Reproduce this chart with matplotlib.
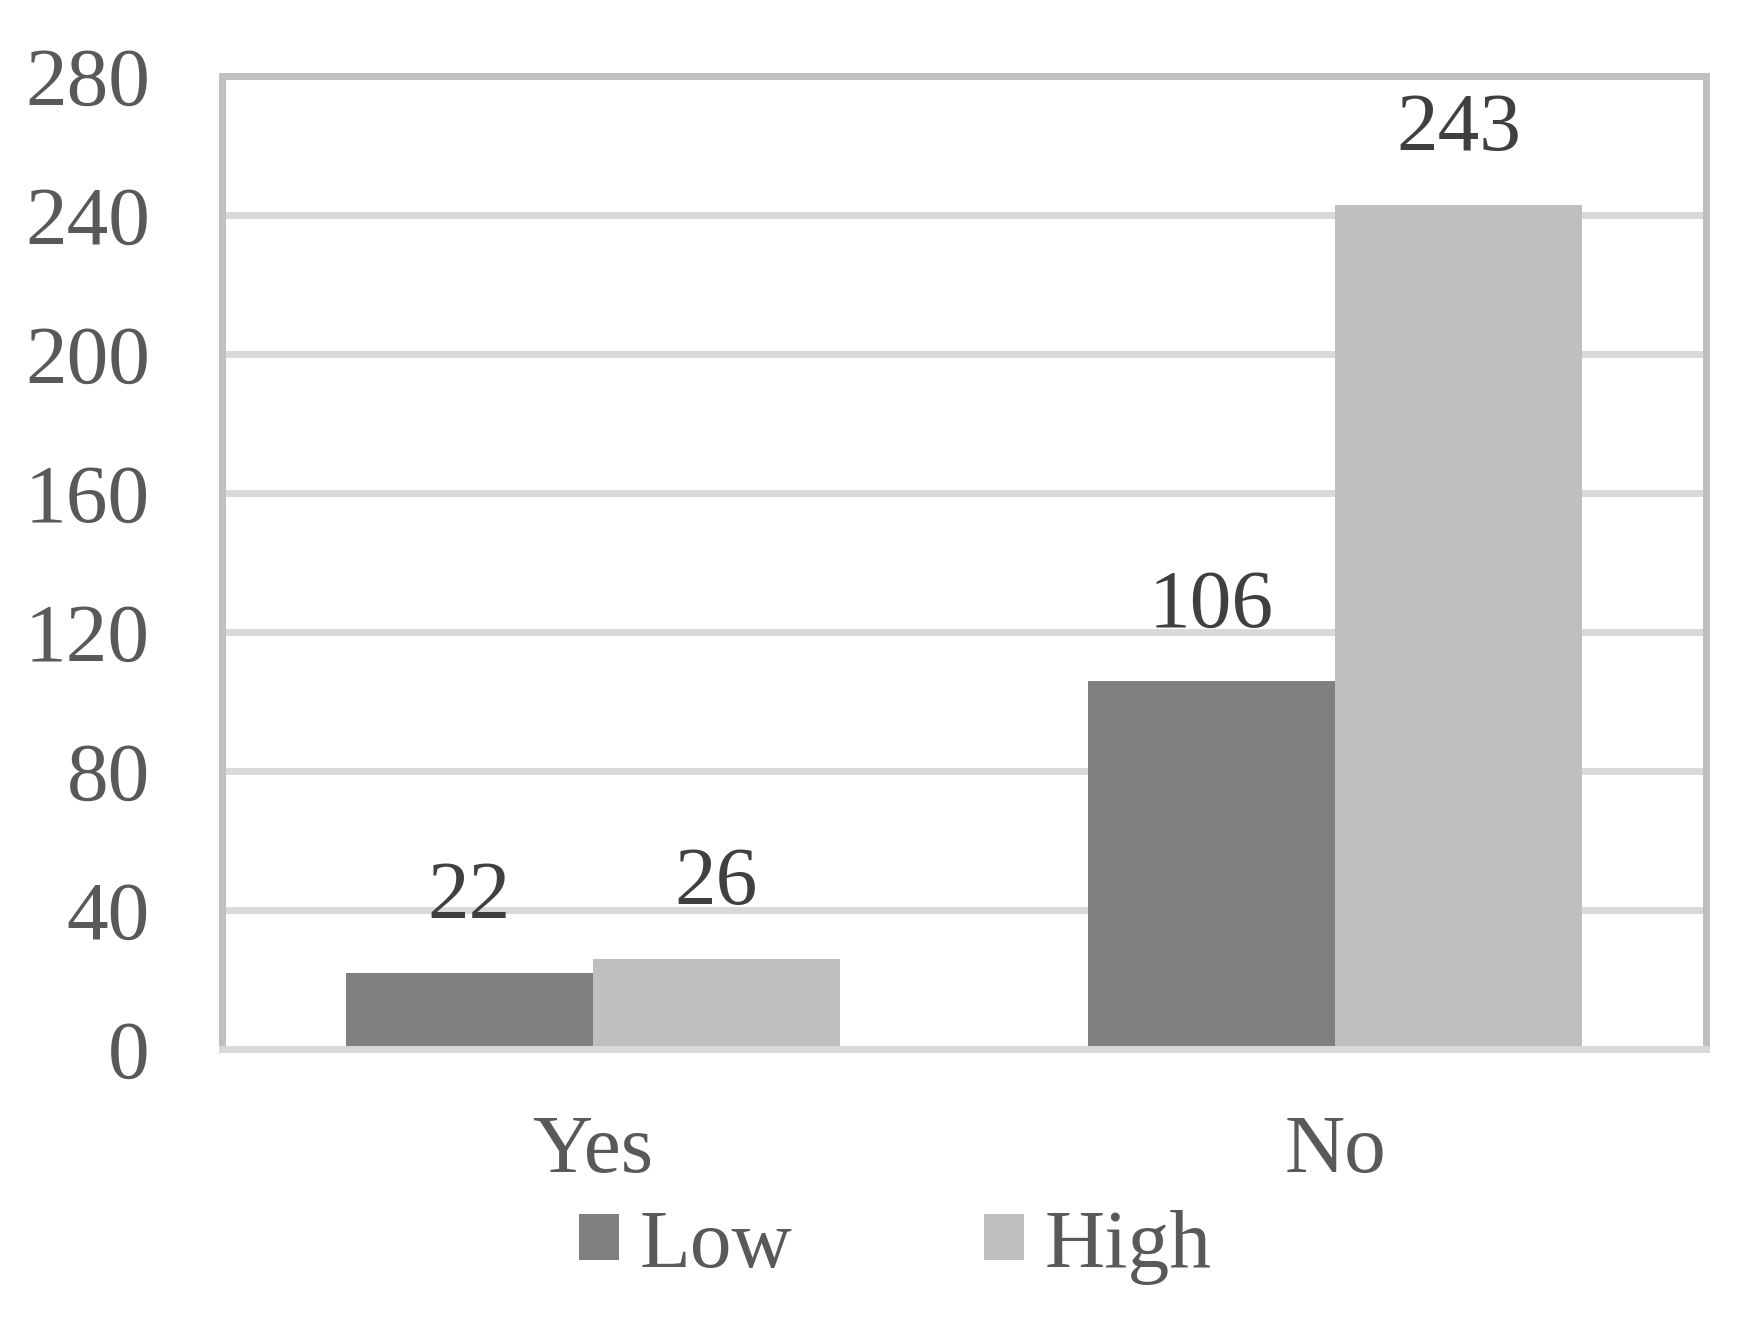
import numpy as np
import matplotlib
matplotlib.use("Agg")
import matplotlib.pyplot as plt

# data
categories = ["Yes", "No"]
low_vals = [22, 106]
high_vals = [26, 243]
series_names = ["Low", "High"]
yticks = [0, 40, 80, 120, 160, 200, 240, 280]

plt.rcParams['font.family'] = ['Liberation Serif', 'DejaVu Serif']

fig = plt.figure(figsize=(17.59, 13.18), dpi=100)
ax = fig.add_axes([0.1262, 0.2041, 0.8437, 0.7382])

x = np.arange(len(categories))
w = 0.333
b1 = ax.bar(x - w / 2, low_vals, w, color="#808080", zorder=2, label=series_names[0])
b2 = ax.bar(x + w / 2, high_vals, w, color="#bfbfbf", zorder=2, label=series_names[1])

# value labels above the bars
for bars, vals in ((b1, low_vals), (b2, high_vals)):
    for r, v in zip(bars, vals):
        ax.annotate(str(v), (r.get_x() + r.get_width() / 2, v),
                    xytext=(0, 39), textcoords="offset points",
                    ha="center", va="baseline", fontsize=60, color="#404040")

ax.set_xlim(-0.5, 1.5)
ax.set_ylim(0, 280)
ax.set_yticks(yticks)
ax.set_xticks(x)
ax.set_xticklabels(categories)
ax.tick_params(axis="y", length=0, pad=52, labelsize=60, labelcolor="#595959")
ax.tick_params(axis="x", length=0, pad=47, labelsize=60, labelcolor="#595959")

ax.yaxis.grid(True, color="#d9d9d9", linewidth=5)
ax.set_axisbelow(True)
for s in ("top", "left", "right"):
    ax.spines[s].set_color("#bfbfbf")
    ax.spines[s].set_linewidth(5)
ax.spines["bottom"].set_color("#d9d9d9")
ax.spines["bottom"].set_linewidth(5)

leg = fig.legend(handles=[b1, b2], loc="center", bbox_to_anchor=(0.509, 0.054),
                 ncol=2, frameon=False, fontsize=60, handlelength=0.48,
                 handleheight=0.48, handletextpad=0.25, columnspacing=2.3,
                 borderpad=0)
for t in leg.get_texts():
    t.set_color("#595959")

fig.savefig("out.png", dpi=100)
